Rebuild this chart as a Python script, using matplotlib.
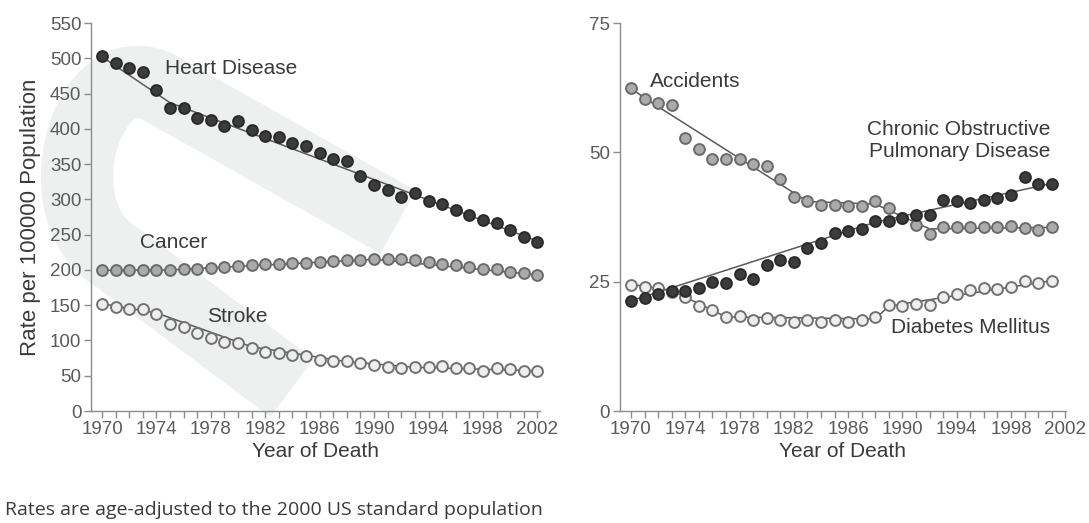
import matplotlib
matplotlib.use("Agg")
import matplotlib.pyplot as plt
from matplotlib.ticker import MultipleLocator
from matplotlib.path import Path
from matplotlib.patches import PathPatch
from matplotlib.transforms import Affine2D

plt.rcParams['font.family'] = ['Liberation Sans', 'DejaVu Sans']

# ---- Leading causes of death, rates per 100000 (age-adjusted) ----
years_left = list(range(1970, 2003))
heart = [503, 494, 486, 480, 455, 430, 430, 416, 412, 404, 411, 398, 390, 389,
         380, 375, 366, 357, 354, 333, 320, 313, 304, 309, 298, 293, 285, 278,
         271, 267, 256, 247, 240]
cancer = [200, 200, 200.5, 200.5, 200.5, 200, 201, 202, 203, 204.5, 205.5, 207,
          208, 209, 210, 210.5, 211, 212, 214, 214.5, 216, 215, 215, 214, 211,
          209, 207, 204.5, 202, 201, 197.5, 195, 193]
stroke = [152, 148, 145, 144, 137, 123, 119, 111, 104, 98, 97, 90, 84, 82, 79,
          77.5, 73, 71, 71, 67.6, 65, 62, 61.4, 62, 63, 64, 61.4, 60.5, 57,
          61.4, 59, 56.7, 57]

years_right = list(range(1970, 2002))
accidents = [62.4, 60.3, 59.6, 59.2, 52.7, 50.6, 48.8, 48.7, 48.8, 47.7, 47.4,
             44.8, 41.4, 40.5, 39.8, 39.9, 39.6, 39.6, 40.5, 39.2, 37.4, 36.0,
             34.3, 35.5, 35.5, 35.5, 35.5, 35.5, 35.8, 35.3, 35.0, 35.6]
copd = [21.3, 21.8, 22.7, 23.2, 23.2, 23.7, 25.0, 24.8, 26.4, 25.5, 28.2, 29.2,
        28.9, 31.6, 32.4, 34.5, 34.8, 35.1, 36.7, 36.7, 37.4, 37.9, 37.9, 40.8,
        40.5, 40.3, 40.8, 41.1, 41.8, 45.3, 43.9, 43.9]
diabetes = [24.4, 23.9, 23.7, 23.1, 22.1, 20.3, 19.5, 18.2, 18.4, 17.6, 17.9,
            17.6, 17.3, 17.6, 17.3, 17.6, 17.3, 17.6, 18.1, 20.5, 20.3, 20.7,
            20.5, 22.0, 22.6, 23.3, 23.7, 23.5, 24.0, 25.2, 24.8, 25.2]

# ---- Joinpoint trend lines (segment end years and fitted rates) ----
heart_trend_years = [1970, 1975, 2002]
heart_trend = [502, 437, 241]
cancer_trend_years = [1970, 1975, 1990, 2002]
cancer_trend = [199.5, 200, 215, 193]
stroke_trend_years = [1970, 1974, 1981, 1988, 1993, 2002]
stroke_trend = [152, 139, 91, 70, 62, 57]
accidents_trend_years = [1970, 1971, 1983, 1988, 1992, 2001]
accidents_trend = [62.4, 60.5, 40.5, 40.0, 35.2, 35.5]
copd_trend_years = [1970, 1988, 2001]
copd_trend = [21.3, 36.5, 44.0]
diabetes_trend_years = [1970, 1973, 1977, 1988, 1989, 2001]
diabetes_trend = [24.5, 23.3, 18.2, 17.8, 20.3, 25.2]

left_yticks = list(range(0, 551, 50))
right_yticks = [0, 25, 50, 75]
xtick_labels = list(range(1970, 2003, 4))

# ---- Styles ----
DARK = dict(mfc='#3c3c3c', mec='#2a2a2a')
GRAY = dict(mfc='#ababab', mec='#6a6a6a')
HOLLOW = dict(mfc='#eeeeee', mec='#717171')
TREND = dict(color='#5a5a5a', lw=1.1, zorder=2)
TEXT_COLOR = '#3a3a3a'
TICK_COLOR = '#5a5a5a'
SPINE_COLOR = '#8c8c8c'
WATERMARK = '#eef0ef'

W_PX, H_PX = 1089, 523


def plot_series(ax, x, y, style):
    ax.plot(x, y, ls='none', marker='o', ms=7.8, mew=1.4, zorder=3,
            clip_on=False, **style)


def style_axes(ax, xlim, ylim, yticks):
    ax.set_xlim(*xlim)
    ax.set_ylim(*ylim)
    for s in ('top', 'right'):
        ax.spines[s].set_visible(False)
    for s in ('left', 'bottom'):
        ax.spines[s].set_color(SPINE_COLOR)
        ax.spines[s].set_linewidth(1.0)
    ax.set_yticks(yticks)
    ax.set_xticks(xtick_labels)
    ax.xaxis.set_minor_locator(MultipleLocator(1))
    ax.tick_params(axis='both', which='both', direction='out', length=5,
                   width=1.0, color=SPINE_COLOR, labelcolor=TICK_COLOR,
                   labelsize=13.5, pad=2)
    ax.set_xlabel('Year of Death', fontsize=15, color=TEXT_COLOR, labelpad=3)


fig = plt.figure(figsize=(W_PX / 100, H_PX / 100), dpi=100)
fig.patch.set_facecolor('white')

# Faint publisher swoosh behind the left panel (pixel coordinates, y down)
px_to_fig = Affine2D().scale(1 / W_PX, -1 / H_PX).translate(0, 1) + fig.transFigure
swoosh = Path([(398, 222), (160, 88), (88, 48), (38, 212), (118, 258), (292, 388)],
              [Path.MOVETO, Path.LINETO, Path.CURVE4, Path.CURVE4, Path.CURVE4,
               Path.LINETO])
fig.patches.append(PathPatch(swoosh, transform=px_to_fig, fill=False,
                             edgecolor=WATERMARK, lw=52, capstyle='butt',
                             joinstyle='round', zorder=-5))

ax1 = fig.add_axes([0.0836, 0.2141, 0.4123, 0.7419])
ax2 = fig.add_axes([0.5693, 0.2141, 0.4096, 0.7419])
for ax in (ax1, ax2):
    ax.set_facecolor('none')
    ax.set_zorder(1)

# Left panel: heart disease, cancer, stroke
ax1.plot(heart_trend_years, heart_trend, **TREND)
ax1.plot(cancer_trend_years, cancer_trend, **TREND)
ax1.plot(stroke_trend_years, stroke_trend, **TREND)
plot_series(ax1, years_left, heart, DARK)
plot_series(ax1, years_left, cancer, GRAY)
plot_series(ax1, years_left, stroke, HOLLOW)
style_axes(ax1, (1969.19, 2002.2), (0, 550), left_yticks)
ax1.set_ylabel('Rate per 100000 Population', fontsize=16, color=TEXT_COLOR,
               labelpad=6)

ax1.text(1974.6, 486, 'Heart Disease', fontsize=15, color=TEXT_COLOR,
         va='center', ha='left')
ax1.text(1972.8, 239.5, 'Cancer', fontsize=15, color=TEXT_COLOR,
         va='center', ha='left')
ax1.text(1977.7, 134.6, 'Stroke', fontsize=15, color=TEXT_COLOR,
         va='center', ha='left')

# Right panel: accidents, COPD, diabetes
ax2.plot(accidents_trend_years, accidents_trend, **TREND)
ax2.plot(copd_trend_years, copd_trend, **TREND)
ax2.plot(diabetes_trend_years, diabetes_trend, **TREND)
plot_series(ax2, years_right, accidents, GRAY)
plot_series(ax2, years_right, diabetes, HOLLOW)
plot_series(ax2, years_right, copd, DARK)
style_axes(ax2, (1969.19, 2002.05), (0, 75), right_yticks)

ax2.text(1971.4, 63.6, 'Accidents', fontsize=15, color=TEXT_COLOR,
         va='center', ha='left')
ax2.text(2000.9, 52.2, 'Chronic Obstructive\nPulmonary Disease', fontsize=15,
         color=TEXT_COLOR, va='center', ha='right', linespacing=1.2)
ax2.text(2000.9, 16.2, 'Diabetes Mellitus', fontsize=15, color=TEXT_COLOR,
         va='center', ha='right')

fig.text(5 / W_PX, 1 - 510 / H_PX, 'Rates are age-adjusted to the 2000 US standard population',
         fontsize=14, color='#3a3a3a', family=['Open Sans', 'DejaVu Sans'],
         ha='left', va='center')

fig.savefig('out.png', dpi=100, facecolor='white')
